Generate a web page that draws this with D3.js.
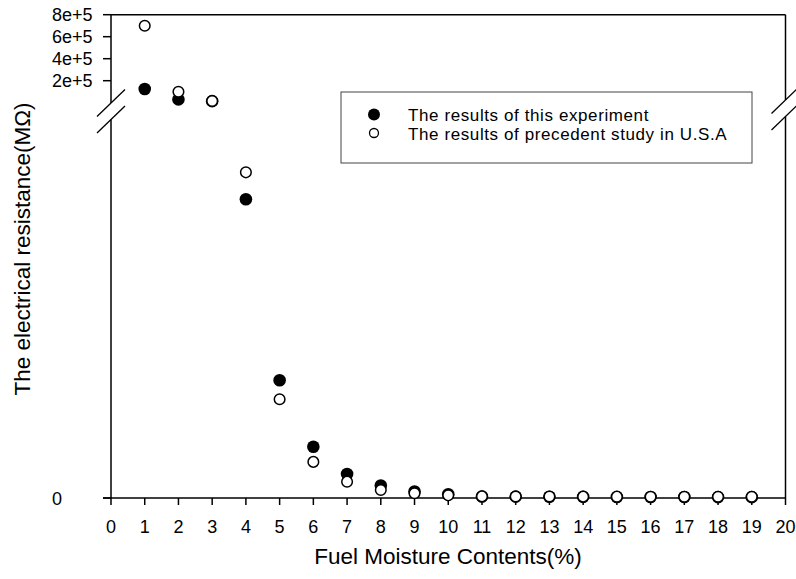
<!DOCTYPE html>
<html>
<head>
<meta charset="utf-8">
<script src="https://cdn.jsdelivr.net/npm/d3@7"></script>
<style>
  html, body { margin: 0; padding: 0; background: #fff; }
  svg text { font-family: "Liberation Sans", Arial, sans-serif; fill: #000; }
</style>
</head>
<body>
<svg id="chart" width="796" height="579"></svg>
<script>
// ---- data ----
const moisture = [1, 2, 3, 4, 5, 6, 7, 8, 9, 10, 11, 12, 13, 14, 15, 16, 17, 18, 19];
const thisExperiment = [125000, 30000, 14000, 7860, 3100, 1350, 630, 330, 170, 100, 40, 35, 32, 30, 28, 26, 25, 24, 23];
const precedentUSA  = [700000, 100000, 15000, 8570, 2600, 950, 430, 210, 125, 70, 42, 40, 38, 36, 35, 34, 33, 32, 31];
const xTicks = d3.range(0, 21);
const yTopTicks = [200000, 400000, 600000, 800000];
const yTopTickLabels = ["2e+5", "4e+5", "6e+5", "8e+5"];
const yBottomTicks = [0];
const yBottomTickLabels = ["0"];
const breakValue = 10000;
const seriesNames = ["The results of this experiment", "The results of precedent study in U.S.A"];
const xTitle = "Fuel Moisture Contents(%)";
const yTitle = "The electrical resistance(MΩ)";

// ---- layout ----
const svg = d3.select("#chart");
const L = 111, R = 785.5, T = 14.7, B = 498;
const x = d3.scaleLinear().domain([0, 20]).range([L, R]);
const yTop = d3.scaleLinear().domain([breakValue, 800000]).range([101.6, T]);
const yBot = d3.scaleLinear().domain([0, breakValue]).range([B, 118]);
const y = v => v >= breakValue ? yTop(v) : yBot(v);

const ax = svg.append("g").attr("stroke", "#000").attr("stroke-width", 1.5).attr("fill", "none");
// left axis with break
ax.append("line").attr("x1", L).attr("x2", L).attr("y1", T).attr("y2", 103);
ax.append("line").attr("x1", L).attr("x2", L).attr("y1", 119.5).attr("y2", B);
// right axis with break
ax.append("line").attr("x1", R).attr("x2", R).attr("y1", T).attr("y2", 100);
ax.append("line").attr("x1", R).attr("x2", R).attr("y1", 116.5).attr("y2", B);
// top + bottom
ax.append("line").attr("x1", L).attr("x2", R).attr("y1", T).attr("y2", T);
ax.append("line").attr("x1", 103).attr("x2", R).attr("y1", B).attr("y2", B);
// break slashes
[[L, 103], [L, 119.5], [R, 100], [R, 116.5]].forEach(([cx, cy]) => {
  ax.append("line").attr("x1", cx - 14).attr("y1", cy + 13.5).attr("x2", cx + 14).attr("y2", cy - 13.5).attr("stroke-width", 1.3);
});

// x ticks
const xg = svg.append("g");
xTicks.forEach(t => {
  xg.append("line").attr("x1", x(t)).attr("x2", x(t)).attr("y1", B).attr("y2", B + 7)
    .attr("stroke", "#000").attr("stroke-width", 1.5);
  xg.append("text").attr("x", x(t)).attr("y", 533).attr("text-anchor", "middle")
    .attr("font-size", 18).text(t);
});

// y ticks
const yg = svg.append("g");
yTopTicks.forEach((t, i) => {
  yg.append("line").attr("x1", 103).attr("x2", L).attr("y1", yTop(t)).attr("y2", yTop(t))
    .attr("stroke", "#000").attr("stroke-width", 1.5);
  yg.append("text").attr("x", 52).attr("y", yTop(t)).attr("dy", "0.35em")
    .attr("font-size", 18).text(yTopTickLabels[i]);
});
yBottomTicks.forEach((t, i) => {
  yg.append("line").attr("x1", 103).attr("x2", L).attr("y1", yBot(t)).attr("y2", yBot(t))
    .attr("stroke", "#000").attr("stroke-width", 1.5);
  yg.append("text").attr("x", 52).attr("y", yBot(t)).attr("dy", "0.38em")
    .attr("font-size", 18).text(yBottomTickLabels[i]);
});

// points
svg.append("g").selectAll("circle").data(moisture).join("circle")
  .attr("cx", d => x(d)).attr("cy", (d, i) => y(thisExperiment[i]))
  .attr("r", 6.3).attr("fill", "#000");
svg.append("g").selectAll("circle").data(moisture).join("circle")
  .attr("cx", d => x(d)).attr("cy", (d, i) => y(precedentUSA[i]))
  .attr("r", 5.3).attr("fill", "#fff").attr("stroke", "#000").attr("stroke-width", 1.5);

// legend
const lg = svg.append("g");
lg.append("rect").attr("x", 341).attr("y", 92).attr("width", 411).attr("height", 71)
  .attr("fill", "#fff").attr("stroke", "#444").attr("stroke-width", 1);
lg.append("circle").attr("cx", 374).attr("cy", 114.5).attr("r", 6).attr("fill", "#000");
lg.append("circle").attr("cx", 374).attr("cy", 133).attr("r", 4.5).attr("fill", "#fff")
  .attr("stroke", "#000").attr("stroke-width", 1.3);
lg.append("text").attr("x", 408).attr("y", 120.5).attr("font-size", 17)
  .attr("letter-spacing", 0.6).text(seriesNames[0]);
lg.append("text").attr("x", 408).attr("y", 139.6).attr("font-size", 17)
  .attr("letter-spacing", 0.6).text(seriesNames[1]);

// titles
svg.append("text").attr("x", 448).attr("y", 564).attr("text-anchor", "middle")
  .attr("font-size", 22.5).text(xTitle);
svg.append("text").attr("transform", "translate(29.5,249) rotate(-90)").attr("text-anchor", "middle")
  .attr("font-size", 22.5).text(yTitle);
</script>
</body>
</html>
